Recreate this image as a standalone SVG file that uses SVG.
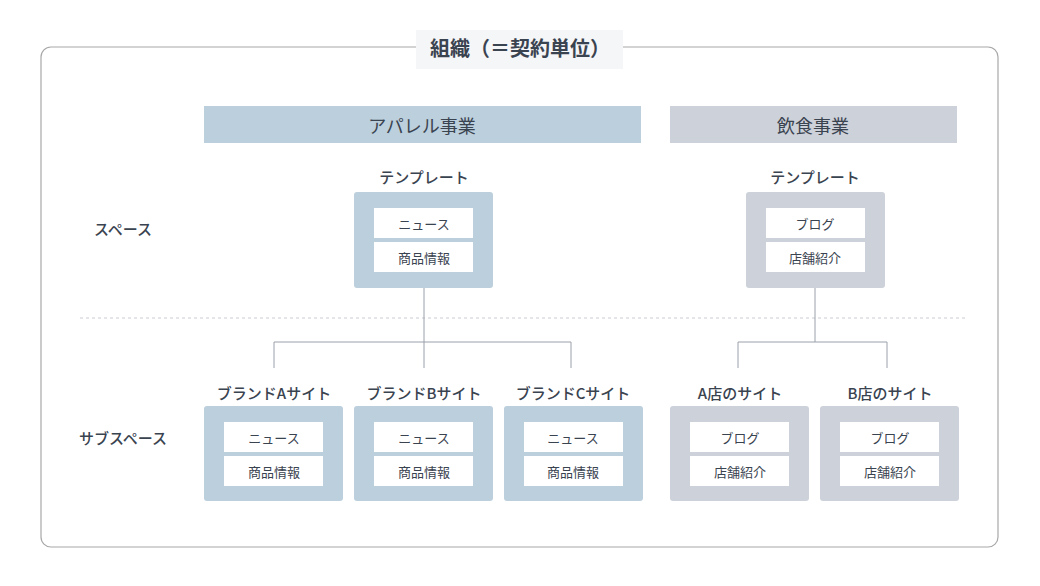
<svg xmlns="http://www.w3.org/2000/svg" width="1040" height="586" viewBox="0 0 1040 586">
<style>
text{font-family:"Noto Sans CJK JP","Noto Sans",sans-serif;fill:#3a4350;text-anchor:middle;dominant-baseline:central}
.lbl{font-size:15px;font-weight:500}
.row{font-size:13px}
.blue{fill:#bccfdc}
.grey{fill:#cdd1d9}
.in{fill:#fff}
.con{fill:none;stroke:#9aa0a8;stroke-width:1}
</style>
<rect x="41" y="47" width="957" height="500" rx="10" fill="#fff" stroke="#a8a8a8" stroke-width="1.2"/>
<rect x="416" y="30" width="207" height="39" fill="#f5f6f7"/>
<text x="520" y="47" style="font-size:20px;font-weight:700">組織（＝契約単位）</text>
<rect class="blue" x="204" y="106" width="437" height="37"/>
<text x="422" y="125" style="font-size:18px">アパレル事業</text>
<rect class="grey" x="670" y="106" width="287" height="37"/>
<text x="813" y="125" style="font-size:18px">飲食事業</text>
<text x="123" y="228" class="lbl">スペース</text>
<text x="123" y="437" class="lbl">サブスペース</text>
<line x1="80" y1="318" x2="965" y2="318" stroke="#c8ccd2" stroke-dasharray="3 3"/>
<g id="connectors">
<path class="con" d="M424 288V342M274 368V342H571V368M424 342V368"/>
<path class="con" d="M815 288V342M738 368V342H887V368"/>
</g>
<g id="tplA"><text x="424" y="176" class="lbl">テンプレート</text><rect class="blue" x="354" y="192" width="139" height="96" rx="3"/><rect class="in" x="374" y="208" width="99" height="30"/><text x="424" y="223" class="row">ニュース</text><rect class="in" x="374" y="242" width="99" height="30"/><text x="424" y="257" class="row">商品情報</text></g>
<g id="tplB"><text x="815" y="176" class="lbl">テンプレート</text><rect class="grey" x="746" y="192" width="139" height="96" rx="3"/><rect class="in" x="766" y="208" width="99" height="30"/><text x="815" y="223" class="row">ブログ</text><rect class="in" x="766" y="242" width="99" height="30"/><text x="815" y="257" class="row">店舗紹介</text></g>
<g id="siteA"><text x="274" y="392" class="lbl">ブランドAサイト</text><rect class="blue" x="204" y="406" width="139" height="95" rx="3"/><rect class="in" x="224" y="422" width="99" height="30"/><text x="274" y="437" class="row">ニュース</text><rect class="in" x="224" y="456" width="99" height="30"/><text x="274" y="471" class="row">商品情報</text></g>
<g id="siteB"><text x="424" y="392" class="lbl">ブランドBサイト</text><rect class="blue" x="354" y="406" width="139" height="95" rx="3"/><rect class="in" x="374" y="422" width="99" height="30"/><text x="424" y="437" class="row">ニュース</text><rect class="in" x="374" y="456" width="99" height="30"/><text x="424" y="471" class="row">商品情報</text></g>
<g id="siteC"><text x="573" y="392" class="lbl">ブランドCサイト</text><rect class="blue" x="504" y="406" width="139" height="95" rx="3"/><rect class="in" x="524" y="422" width="99" height="30"/><text x="573" y="437" class="row">ニュース</text><rect class="in" x="524" y="456" width="99" height="30"/><text x="573" y="471" class="row">商品情報</text></g>
<g id="shopA"><text x="740" y="392" class="lbl">A店のサイト</text><rect class="grey" x="670" y="406" width="139" height="95" rx="3"/><rect class="in" x="690" y="422" width="99" height="30"/><text x="740" y="437" class="row">ブログ</text><rect class="in" x="690" y="456" width="99" height="30"/><text x="740" y="471" class="row">店舗紹介</text></g>
<g id="shopB"><text x="890" y="392" class="lbl">B店のサイト</text><rect class="grey" x="820" y="406" width="139" height="95" rx="3"/><rect class="in" x="840" y="422" width="99" height="30"/><text x="890" y="437" class="row">ブログ</text><rect class="in" x="840" y="456" width="99" height="30"/><text x="890" y="471" class="row">店舗紹介</text></g>
</svg>
